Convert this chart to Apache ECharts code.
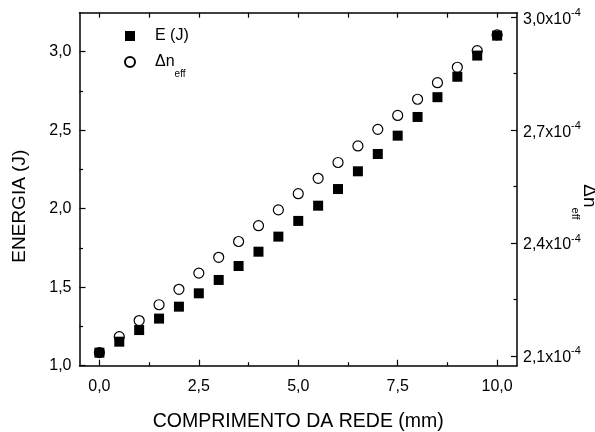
<!DOCTYPE html>
<html>
<head>
<meta charset="utf-8">
<script src="https://cdn.jsdelivr.net/npm/echarts@6/dist/echarts.min.js"></script>
<style>
html,body{margin:0;padding:0;background:#fff;}
#chart{width:595px;height:432px;}
</style>
</head>
<body>
<div id="chart"></div>
<script>
// ---- data ----
const lengthMm = [0,0.5,1,1.5,2,2.5,3,3.5,4,4.5,5,5.5,6,6.5,7,7.5,8,8.5,9,9.5,10];
const energyJ = [1.083,1.153,1.227,1.300,1.376,1.461,1.546,1.635,1.726,1.822,1.922,2.019,2.125,2.238,2.348,2.465,2.584,2.710,2.840,2.975,3.102];
// delta n_eff in units of 1e-4
const deltaNeff = [2.109,2.151,2.194,2.236,2.277,2.320,2.362,2.404,2.446,2.488,2.531,2.572,2.614,2.658,2.702,2.739,2.782,2.826,2.867,2.911,2.953];
const xMajor = [0,2.5,5,7.5,10];
const xMinor = [1.25,3.75,6.25,8.75];
const leftMajor = [1.0,1.5,2.0,2.5,3.0];
const leftMinor = [1.25,1.75,2.25,2.75];
const rightMajor = [2.1,2.4,2.7,3.0];
const rightMinor = [2.25,2.55,2.85];
const xTitle = 'COMPRIMENTO DA REDE (mm)';
const leftTitle = 'ENERGIA (J)';
const seriesNames = ['E (J)', 'Δn_eff'];

const FONT = '"Liberation Sans", Arial, sans-serif';
const comma = v => v.toFixed(1).replace('.', ',');
const gridRect = {left: 79.5, right: 78, top: 12.7, bottom: 66.3, containLabel: false, outerBoundsMode: 'none'};
const line = {show: true, onZero: false, lineStyle: {color: '#000', width: 1.5}};
const noLine = {show: false, onZero: false};

const chart = echarts.init(document.getElementById('chart'), null, {renderer: 'canvas'});
chart.setOption({
  animation: false,
  backgroundColor: '#fff',
  grid: [Object.assign({}, gridRect), Object.assign({}, gridRect)],
  legend: {
    orient: 'vertical', left: 119, top: 23, itemWidth: 10, itemHeight: 10, itemGap: 10,
    data: seriesNames,
    formatter: n => n === seriesNames[1] ? '{a|Δn}{s|eff}' : '{a|' + n + '}',
    textStyle: {
      fontFamily: FONT, fontSize: 16, color: '#000', padding: [0, 0, 0, 15],
      rich: {
        a: {fontFamily: FONT, fontSize: 16, color: '#000', lineHeight: 18},
        s: {fontFamily: FONT, fontSize: 10, color: '#000', lineHeight: 18, verticalAlign: 'bottom', padding: [0, 0, -8, 0]}
      }
    }
  },
  graphic: [{
    type: 'text', x: 589, y: 202, rotation: -Math.PI / 2,
    style: {
      text: '{a|Δn}{s|eff}', align: 'center', verticalAlign: 'middle',
      rich: {
        a: {fontFamily: FONT, fontSize: 19, fill: '#000', lineHeight: 22},
        s: {fontFamily: FONT, fontSize: 11, fill: '#000', lineHeight: 22, verticalAlign: 'bottom', padding: [0, 0, -8, 0]}
      }
    }
  }],
  xAxis: [
    {type: 'value', gridIndex: 0, position: 'bottom', min: -0.5, max: 10.5,
      axisLine: line, splitLine: {show: false},
      axisTick: {show: true, inside: true, length: 6, customValues: xMajor, lineStyle: {color: '#000', width: 1.2}},
      axisLabel: {show: true, customValues: xMajor, formatter: comma, fontFamily: FONT, fontSize: 16, color: '#000', margin: 13},
      name: xTitle, nameLocation: 'middle', nameGap: 46,
      nameTextStyle: {fontFamily: FONT, fontSize: 19.5, color: '#000'}},
    {type: 'value', gridIndex: 0, position: 'top', min: -0.5, max: 10.5,
      axisLine: line, splitLine: {show: false},
      axisTick: {show: true, inside: true, length: 5, customValues: xMajor.concat(xMinor), lineStyle: {color: '#000', width: 1.2}},
      axisLabel: {show: false}},
    {type: 'value', gridIndex: 1, position: 'bottom', min: -0.5, max: 10.5,
      axisLine: noLine, splitLine: {show: false},
      axisTick: {show: true, inside: true, length: 3.5, customValues: xMinor, lineStyle: {color: '#000', width: 1.2}},
      axisLabel: {show: false}}
  ],
  yAxis: [
    {type: 'value', gridIndex: 0, position: 'left', min: 1.0, max: 3.248,
      axisLine: line, splitLine: {show: false},
      axisTick: {show: true, inside: true, length: 6, customValues: leftMajor, lineStyle: {color: '#000', width: 1.2}},
      axisLabel: {show: true, customValues: leftMajor, formatter: comma, fontFamily: FONT, fontSize: 16, color: '#000', margin: 8},
      name: leftTitle, nameLocation: 'middle', nameGap: 50, nameRotate: 90,
      nameTextStyle: {fontFamily: FONT, fontSize: 19, color: '#000', padding: [0, 34, 0, 0]}},
    {type: 'value', gridIndex: 0, position: 'right', min: 2.074, max: 3.012,
      axisLine: line, splitLine: {show: false},
      axisTick: {show: true, inside: true, length: 6, customValues: rightMajor, lineStyle: {color: '#000', width: 1.2}},
      axisLabel: {show: true, customValues: rightMajor, margin: 6,
        formatter: v => '{a|' + comma(v) + 'x10}{s|-4}',
        rich: {
          a: {fontFamily: FONT, fontSize: 16, color: '#000', lineHeight: 20, verticalAlign: 'bottom'},
          s: {fontFamily: FONT, fontSize: 11, color: '#000', lineHeight: 20, verticalAlign: 'top'}
        }}},
    {type: 'value', gridIndex: 1, position: 'left', min: 1.0, max: 3.248,
      axisLine: noLine, splitLine: {show: false},
      axisTick: {show: true, inside: true, length: 3.5, customValues: leftMinor, lineStyle: {color: '#000', width: 1.2}},
      axisLabel: {show: false}},
    {type: 'value', gridIndex: 1, position: 'right', min: 2.074, max: 3.012,
      axisLine: noLine, splitLine: {show: false},
      axisTick: {show: true, inside: true, length: 3.5, customValues: rightMinor, lineStyle: {color: '#000', width: 1.2}},
      axisLabel: {show: false}}
  ],
  series: [
    {name: seriesNames[0], type: 'scatter', xAxisIndex: 0, yAxisIndex: 0, symbol: 'rect', symbolSize: 10,
      itemStyle: {color: '#000', opacity: 1},
      data: lengthMm.map((x, i) => [x, energyJ[i]]), z: 3},
    {name: seriesNames[1], type: 'scatter', xAxisIndex: 0, yAxisIndex: 1, symbol: 'circle', symbolSize: 10,
      itemStyle: {color: '#fff', borderColor: '#000', borderWidth: 1.2, opacity: 1},
      data: lengthMm.map((x, i) => [x, deltaNeff[i]]), z: 2}
  ]
});
</script>
</body>
</html>
